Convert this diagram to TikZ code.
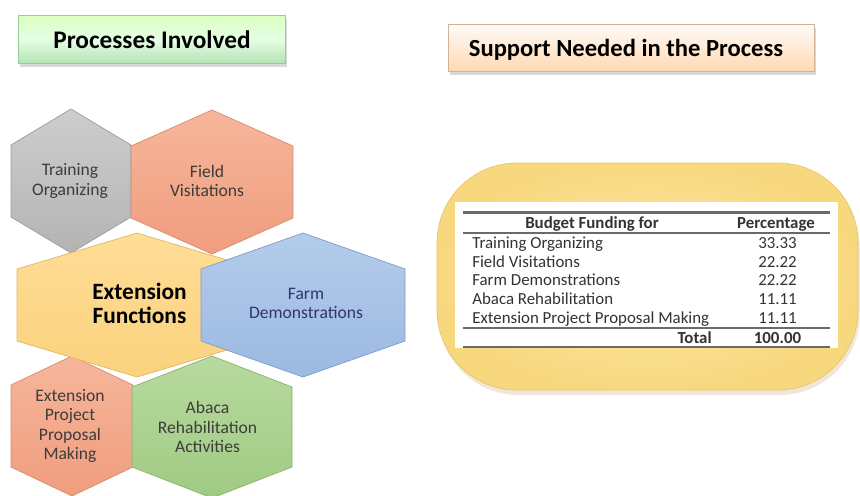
\documentclass[tikz,border=0pt]{standalone}
\usepackage{fontspec}
\setmainfont{Carlito}
\usetikzlibrary{shadows}

\definecolor{grayTop}{HTML}{CDCDCD}
\definecolor{grayBot}{HTML}{B4B4B4}
\definecolor{grayLine}{HTML}{9C9C9C}
\definecolor{salmonTop}{HTML}{F6B69B}
\definecolor{salmonBot}{HTML}{F09D7E}
\definecolor{salmonLine}{HTML}{D38D71}
\definecolor{yellowTop}{HTML}{FEDD96}
\definecolor{yellowBot}{HTML}{FBD27E}
\definecolor{yellowLine}{HTML}{E0B965}
\definecolor{blueTop}{HTML}{B4CCEB}
\definecolor{blueBot}{HTML}{9CB9E1}
\definecolor{blueLine}{HTML}{7E9CC8}
\definecolor{greenTop}{HTML}{B8D99F}
\definecolor{greenBot}{HTML}{A0CB83}
\definecolor{greenLine}{HTML}{88B26C}
\definecolor{boxIn}{HTML}{FCE9AE}
\definecolor{boxOut}{HTML}{F8D87F}
\definecolor{boxLine}{HTML}{E8C568}
\definecolor{hexText}{HTML}{3C3C3C}
\definecolor{tableText}{HTML}{333333}
\definecolor{ruleGray}{HTML}{6A6A6A}

\begin{document}
\begin{tikzpicture}[scale=0.2]
	\tikzstyle{every node}+=[inner sep=0pt]
	\tikzstyle{hextext}=[align=center, text=hexText, font=\fontsize{10}{11}\selectfont]
	\tikzstyle{rowtext}=[anchor=base west, text=tableText, font=\fontsize{9.6}{11}\selectfont]
	\tikzstyle{valtext}=[anchor=base, text=tableText, font=\fontsize{9.6}{11}\selectfont]
	\useasboundingbox (0,0) rectangle (86,-49.5);
	% title boxes
	\draw [draw=green!35!gray!60, top color=green!60!yellow!25!white, bottom color=green!45!gray!40, middle color=green!10!white, drop shadow={shadow xshift=0.2ex, shadow yshift=-0.5ex, opacity=0.3}] (1.8,-1.5) rectangle (28.5,-6.3);
	\node (procTitle) [anchor=base, font=\fontsize{14.4}{16}\selectfont\bfseries] at (15.2,-4.85) {Processes Involved};
	\draw [draw=orange!40!gray!60, top color=orange!3!white, bottom color=orange!30!white, drop shadow={shadow xshift=0.2ex, shadow yshift=-0.5ex, opacity=0.3}] (44.8,-2.4) rectangle (81.4,-7.1);
	\node (suppTitle) [anchor=base, font=\fontsize{14}{16}\selectfont\bfseries] at (62.6,-5.67) {Support Needed in the Process};
	% hexagons
	\draw [draw=grayLine, top color=grayTop, bottom color=grayBot] (7.1,-10.9) -- (13.1,-14.5) -- (13.1,-21.7) -- (7.1,-25.3) -- (1.1,-21.7) -- (1.1,-14.5) -- cycle;
	\node (trainHex) [hextext] at (7.0,-18.1) {Training\\Organizing};
	\draw [draw=salmonLine, top color=salmonTop, bottom color=salmonBot] (21.2,-11.0) -- (29.3,-14.6) -- (29.3,-21.8) -- (21.2,-25.4) -- (13.1,-21.8) -- (13.1,-14.6) -- cycle;
	\node (fieldHex) [hextext] at (20.7,-18.1) {Field\\Visitations};
	\draw [draw=salmonLine, top color=salmonTop, bottom color=salmonBot] (7.2,-35.6) -- (13.3,-38.5) -- (13.3,-46.7) -- (7.2,-49.6) -- (1.1,-46.7) -- (1.1,-38.5) -- cycle;
	\node (propHex) [hextext] at (7.0,-42.6) {Extension\\Project\\Proposal\\Making};
	\draw [draw=greenLine, top color=greenTop, bottom color=greenBot] (21.2,-35.6) -- (29.2,-38.7) -- (29.2,-46.7) -- (21.2,-49.8) -- (13.2,-46.7) -- (13.2,-38.7) -- cycle;
	\node (abacaHex) [hextext] at (20.75,-42.7) {Abaca\\Rehabilitation\\Activities};
	\draw [draw=yellowLine, top color=yellowTop, bottom color=yellowBot] (13.7,-23.3) -- (25.7,-26.9) -- (25.7,-34.1) -- (13.7,-37.7) -- (1.7,-34.1) -- (1.7,-26.9) -- cycle;
	\draw [draw=blueLine, top color=blueTop, bottom color=blueBot] (30.3,-23.3) -- (40.5,-26.9) -- (40.5,-34.1) -- (30.3,-37.7) -- (20.1,-34.1) -- (20.1,-26.9) -- cycle;
	\node (extHex) [align=center, font=\fontsize{13.3}{13.6}\selectfont\bfseries] at (13.95,-30.3) {Extension\\Functions};
	\node (farmHex) [hextext, text=black!70!blue!80] at (30.6,-30.35) {Farm\\Demonstrations};
	% budget table
	\draw [draw=boxLine, inner color=boxIn, outer color=boxOut, rounded corners=1.6cm, drop shadow={shadow xshift=0.2ex, shadow yshift=-0.6ex, opacity=0.2, fill=orange!50!gray}] (43.7,-16.3) rectangle (85.8,-39.0);
	\fill [white] (45.5,-20.2) rectangle (83.8,-34.8);
	\draw [ruleGray, line width=1.2pt] (46.3,-21.25) -- (83.0,-21.25);
	\draw [ruleGray, line width=0.6pt] (46.3,-23.3) -- (83.0,-23.3);
	\draw [ruleGray, line width=0.6pt] (46.3,-32.8) -- (83.0,-32.8);
	\draw [ruleGray, line width=1.0pt] (46.3,-34.7) -- (83.0,-34.7);
	\node (headFor) [valtext, font=\fontsize{9.6}{11}\selectfont\bfseries] at (59.2,-22.85) {Budget Funding for};
	\node (headPct) [valtext, font=\fontsize{9.6}{11}\selectfont\bfseries] at (77.6,-22.85) {Percentage};
	\node (rowTrain) [rowtext] at (47.2,-24.8) {Training Organizing};
	\node (valTrain) [valtext] at (77.75,-24.8) {33.33};
	\node (rowField) [rowtext] at (47.2,-26.7) {Field Visitations};
	\node (valField) [valtext] at (77.75,-26.7) {22.22};
	\node (rowFarm) [rowtext] at (47.2,-28.55) {Farm Demonstrations};
	\node (valFarm) [valtext] at (77.75,-28.55) {22.22};
	\node (rowAbaca) [rowtext] at (47.2,-30.45) {Abaca Rehabilitation};
	\node (valAbaca) [valtext] at (77.75,-30.45) {11.11};
	\node (rowProp) [rowtext] at (47.2,-32.35) {Extension Project Proposal Making};
	\node (valProp) [valtext] at (77.75,-32.35) {11.11};
	\node (rowTotal) [rowtext, anchor=base east, font=\fontsize{9.6}{11}\selectfont\bfseries] at (71.2,-34.3) {Total};
	\node (valTotal) [valtext, font=\fontsize{9.6}{11}\selectfont\bfseries] at (77.75,-34.3) {100.00};
\end{tikzpicture}
\end{document}
